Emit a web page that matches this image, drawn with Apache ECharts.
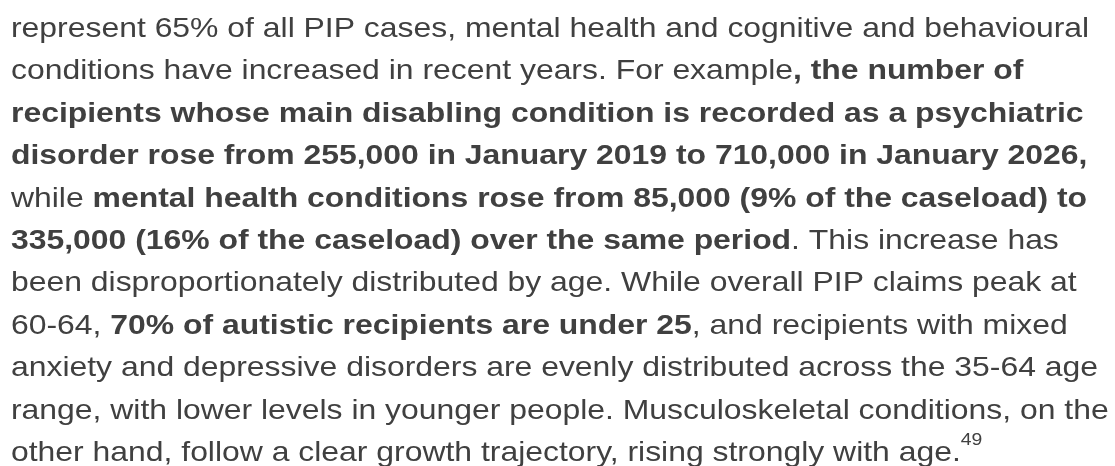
<!DOCTYPE html>
<html>
<head>
<meta charset="utf-8">
<script src="https://cdn.jsdelivr.net/npm/echarts@6/dist/echarts.min.js"></script>
<style>
  html, body { margin: 0; padding: 0; background: #fff; }
  #chart { width: 1115px; height: 466px; }
</style>
</head>
<body>
<div id="chart"></div>
<script>
// paragraph lines, each a list of [style, text] pieces
const lines = [
  [['n', 'represent 65% of all PIP cases, mental health and cognitive and behavioural']],
  [['n', 'conditions have increased in recent years. For example'], ['b', ', the number of']],
  [['b', 'recipients whose main disabling condition is recorded as a psychiatric']],
  [['b', 'disorder rose from 255,000 in January 2019 to 710,000 in January 2026,']],
  [['n', 'while '], ['b', 'mental health conditions rose from 85,000 (9% of the caseload) to']],
  [['b', '335,000 (16% of the caseload) over the same period'], ['n', '. This increase has']],
  [['n', 'been disproportionately distributed by age. While overall PIP claims peak at']],
  [['n', '60-64, '], ['b', '70% of autistic recipients are under 25'], ['n', ', and recipients with mixed']],
  [['n', 'anxiety and depressive disorders are evenly distributed across the 35-64 age']],
  [['n', 'range, with lower levels in younger people. Musculoskeletal conditions, on the']],
  [['n', 'other hand, follow a clear growth trajectory, rising strongly with age.'], ['sup', '49']]
]

const textColor = '#404040'
const fontSize = 28
const lineH = 42.4
const fontFam = '"Liberation Sans", Arial, sans-serif'

let paragraph = lines
  .map(line => line.map(p => `{${p[0]}|${p[1]}}`).join(''))
  .join('\n')

const option = {
  backgroundColor: '#ffffff',
  graphic: [
    {
      type: 'text',
      x: 11,
      y: 8,
      scaleX: 31.9 / fontSize, // source picture is a bit wider than tall
      style: {
        text: paragraph,
        fill: textColor,
        font: `${fontSize}px ${fontFam}`,
        lineHeight: lineH,
        rich: {
          n: {
            fontFamily: fontFam,
            fontSize: fontSize,
            lineHeight: lineH,
            color: textColor,
          },
          b: {
            fontFamily: fontFam,
            fontSize: fontSize,
            fontWeight: 'bold',
            lineHeight: lineH,
            color: textColor,
          },
          sup: {
            fontFamily: fontFam,
            fontSize: 17,
            lineHeight: 42,
            verticalAlign: 'top',
            color: textColor,
          },
        },
      },
    },
  ],
}

const chart = echarts.init(document.getElementById('chart'))
chart.setOption(option)
</script>
</body>
</html>
